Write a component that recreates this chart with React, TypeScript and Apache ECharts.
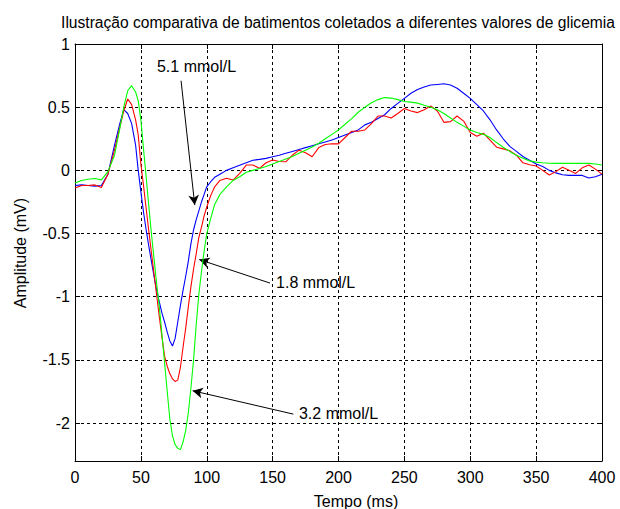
import React, { useEffect, useRef } from "react";
import * as echarts from "echarts";

const time = [0, 5, 10, 15, 20, 25, 30, 34, 37, 40, 43, 46, 48, 50, 52, 54, 56, 58, 60, 62, 64, 66, 68, 70, 72, 74, 76, 78, 80, 82, 84, 86, 88, 90, 92, 94, 96, 98, 100, 103, 106, 110, 115, 120, 125, 130, 135, 140, 145, 150, 155, 160, 165, 170, 175, 180, 185, 190, 195, 200, 205, 210, 215, 220, 225, 230, 235, 240, 245, 250, 255, 260, 265, 270, 275, 280, 285, 290, 295, 300, 305, 310, 315, 320, 325, 330, 335, 340, 345, 350, 355, 360, 365, 370, 375, 380, 385, 390, 395, 400];

const blue51 = [-0.12, -0.115, -0.12, -0.125, -0.12, -0.03, 0.2, 0.37, 0.48, 0.45, 0.37, 0.2, 0.0, -0.17, -0.33, -0.47, -0.6, -0.72, -0.84, -0.95, -1.04, -1.13, -1.2, -1.28, -1.35, -1.39, -1.33, -1.2, -1.07, -0.95, -0.84, -0.72, -0.58, -0.47, -0.39, -0.32, -0.25, -0.19, -0.13, -0.09, -0.055, -0.03, 0.0, 0.02, 0.04, 0.06, 0.08, 0.087, 0.095, 0.108, 0.12, 0.135, 0.15, 0.165, 0.18, 0.195, 0.21, 0.225, 0.24, 0.26, 0.28, 0.3, 0.32, 0.36, 0.38, 0.41, 0.44, 0.49, 0.53, 0.57, 0.61, 0.64, 0.66, 0.675, 0.68, 0.685, 0.675, 0.65, 0.61, 0.57, 0.52, 0.47, 0.4, 0.32, 0.25, 0.19, 0.15, 0.11, 0.08, 0.05, 0.03, 0.0, -0.02, -0.035, -0.04, -0.04, -0.04, -0.06, -0.05, -0.03];

const red18 = [-0.14, -0.12, -0.12, -0.115, -0.135, -0.03, 0.16, 0.34, 0.47, 0.565, 0.52, 0.4, 0.28, 0.05, -0.12, -0.3, -0.48, -0.65, -0.82, -0.99, -1.16, -1.32, -1.47, -1.55, -1.61, -1.65, -1.67, -1.66, -1.56, -1.4, -1.25, -1.08, -0.92, -0.78, -0.66, -0.53, -0.45, -0.36, -0.29, -0.2, -0.13, -0.08, -0.063, -0.077, -0.024, 0.042, 0.042, 0.016, 0.06, 0.082, 0.07, 0.068, 0.12, 0.16, 0.14, 0.108, 0.18, 0.205, 0.21, 0.21, 0.26, 0.31, 0.31, 0.32, 0.37, 0.43, 0.43, 0.415, 0.45, 0.49, 0.47, 0.457, 0.48, 0.51, 0.47, 0.38, 0.386, 0.43, 0.39, 0.3, 0.27, 0.294, 0.24, 0.183, 0.17, 0.155, 0.12, 0.06, 0.045, 0.034, 0.0, -0.037, -0.01, 0.024, 0.0, -0.024, 0.02, 0.042, 0.01, -0.03];

const green32 = [-0.1, -0.08, -0.07, -0.065, -0.075, -0.01, 0.12, 0.33, 0.5, 0.63, 0.67, 0.62, 0.55, 0.4, 0.17, -0.05, -0.28, -0.5, -0.7, -0.9, -1.08, -1.3, -1.52, -1.75, -1.97, -2.1, -2.17, -2.2, -2.21, -2.15, -2.06, -1.92, -1.72, -1.5, -1.22, -0.98, -0.8, -0.64, -0.5, -0.38, -0.27, -0.19, -0.13, -0.08, -0.05, -0.015, 0.0, 0.015, 0.03, 0.05, 0.07, 0.09, 0.11, 0.135, 0.16, 0.185, 0.215, 0.25, 0.285, 0.32, 0.365, 0.41, 0.46, 0.5, 0.535, 0.56, 0.576, 0.572, 0.56, 0.545, 0.54, 0.532, 0.515, 0.5, 0.48, 0.45, 0.415, 0.38, 0.35, 0.32, 0.3, 0.285, 0.26, 0.22, 0.183, 0.15, 0.12, 0.095, 0.075, 0.065, 0.06, 0.056, 0.055, 0.055, 0.055, 0.055, 0.056, 0.055, 0.05, 0.042];

const annotationLabels = ["5.1 mmol/L", "1.8 mmol/L", "3.2 mmol/L"];
const labelAnchors: [number, number][] = [[62.2, 0.822], [152.6, -0.89], [170, -1.921]];
const arrowStarts: [number, number][] = [[80.5, 0.709], [148, -0.892], [165.7, -1.929]];
const arrowTips: [number, number][] = [[90.9, -0.275], [94.3, -0.706], [89.3, -1.744]];

const titleText = "Ilustração comparativa de batimentos coletados a diferentes valores de glicemia";
const xName = "Tempo (ms)";
const yName = "Amplitude (mV)";

const FONT = "Arial, 'Liberation Sans', sans-serif";
const FS = 16;

export default function App() {
  const ref = useRef<HTMLDivElement>(null);
  useEffect(() => {
    if (!ref.current) return;
    const chart = echarts.init(ref.current, null, { renderer: "svg" });
    const pair = (ys: number[]) => time.map((t, i) => [t, ys[i]]);
    const gridLine = { show: true, lineStyle: { color: "#000", width: 1, type: [3, 3] as any } };
    const tick = { show: true, inside: true, length: 5, lineStyle: { color: "#000" } };
    chart.setOption({
      animation: false,
      backgroundColor: "#fff",
      textStyle: { fontFamily: FONT },
      grid: { left: 75, right: 18, top: 44, bottom: 48 },
      graphic: [
        { type: "text", x: 338, y: 22, style: { text: titleText, font: `15.6px ${FONT}`, fill: "#000", textAlign: "center", textVerticalAlign: "middle" } },
        { type: "text", x: 356, y: 501, style: { text: xName, font: `${FS}px ${FONT}`, fill: "#000", textAlign: "center", textVerticalAlign: "middle" } },
        { type: "text", x: 20, y: 253, rotation: Math.PI / 2, style: { text: yName, font: `${FS}px ${FONT}`, fill: "#000", textAlign: "center", textVerticalAlign: "middle" } },
      ],
      xAxis: [
        {
          type: "value", min: 0, max: 400, interval: 50,
          axisLine: { show: true, onZero: false, lineStyle: { color: "#000" } },
          axisTick: tick, splitLine: gridLine,
          axisLabel: { color: "#000", fontSize: FS, fontFamily: FONT, margin: 8 },
        },
        {
          type: "value", position: "top", min: 0, max: 400, interval: 50,
          axisLine: { show: true, onZero: false, lineStyle: { color: "#000" } },
          axisTick: tick, splitLine: { show: false }, axisLabel: { show: false },
        },
      ],
      yAxis: [
        {
          type: "value", min: -2.3, max: 1, splitNumber: 5,
          axisLine: { show: true, onZero: false, lineStyle: { color: "#000" } },
          axisTick: tick, splitLine: gridLine,
          axisLabel: { color: "#000", fontSize: FS, fontFamily: FONT, margin: 5, showMinLabel: false },
        },
        {
          type: "value", position: "right", min: -2.3, max: 1, splitNumber: 5,
          axisLine: { show: true, onZero: false, lineStyle: { color: "#000" } },
          axisTick: tick, splitLine: { show: false }, axisLabel: { show: false },
        },
      ],
      series: [
        { type: "line", name: "5.1", data: pair(blue51), showSymbol: false, symbol: "none", lineStyle: { color: "#0000ff", width: 1.1 }, z: 3 },
        { type: "line", name: "1.8", data: pair(red18), showSymbol: false, symbol: "none", lineStyle: { color: "#ff0000", width: 1.1 }, z: 4 },
        { type: "line", name: "3.2", data: pair(green32), showSymbol: false, symbol: "none", lineStyle: { color: "#00ff00", width: 1.1 }, z: 5 },
        {
          type: "scatter", data: labelAnchors.map((p, i) => ({ value: p, name: annotationLabels[i] })),
          symbolSize: 0, silent: true, z: 6,
          itemStyle: { opacity: 1, color: "#000" },
          label: { show: true, position: "right", distance: 0, formatter: "{b}", color: "#000", opacity: 1, fontSize: FS, fontFamily: FONT },
          markLine: {
            silent: true, symbol: ["none", "arrow"], symbolSize: [8, 10],
            lineStyle: { color: "#000", width: 1, type: "solid", opacity: 1 },
            label: { show: false },
            data: arrowStarts.map((s, i) => [{ coord: s }, { coord: arrowTips[i] }]),
          },
        },
      ],
    });
    return () => chart.dispose();
  }, []);
  return <div ref={ref} style={{ position: "fixed", left: 0, top: 0, width: 620, height: 509 }} />;
}
